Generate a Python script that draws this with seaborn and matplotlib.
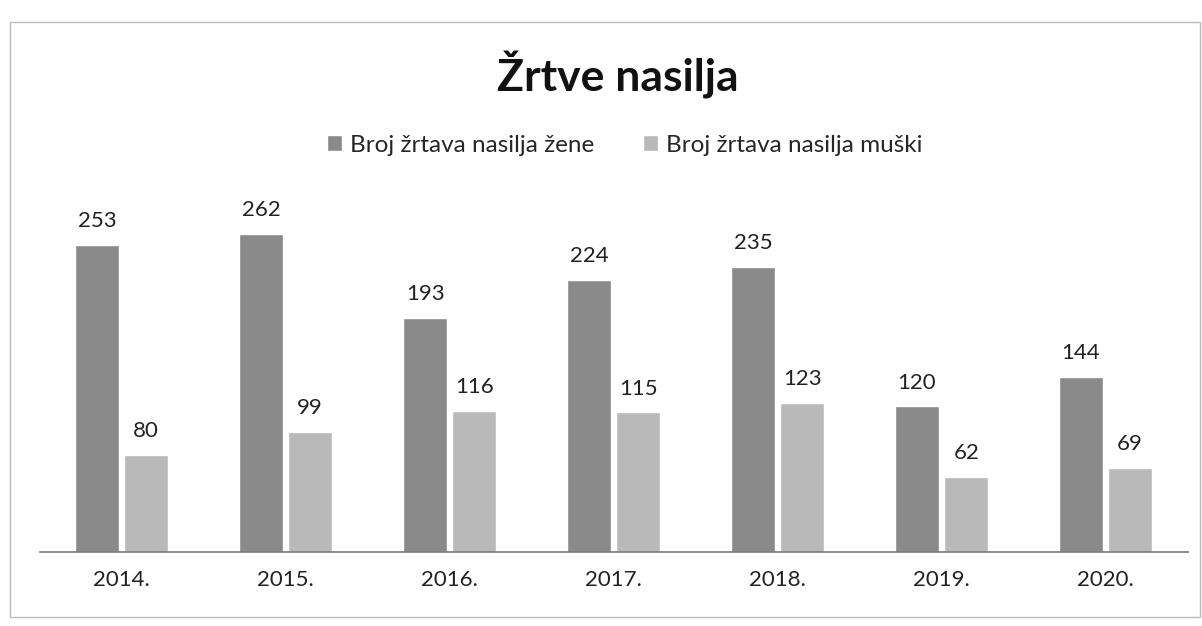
import pandas as pd
import seaborn as sns
import matplotlib.pyplot as plt
from matplotlib.patches import Patch

# data
years = ["2014.", "2015.", "2016.", "2017.", "2018.", "2019.", "2020."]
zene = [253, 262, 193, 224, 235, 120, 144]
muski = [80, 99, 116, 115, 123, 62, 69]
series = ["Broj žrtava nasilja žene", "Broj žrtava nasilja muški"]

df = pd.DataFrame({
    "year": years * 2,
    "value": zene + muski,
    "series": [series[0]] * len(years) + [series[1]] * len(years),
})

sns.set_style("white")
plt.rcParams["font.family"] = ["Lato", "DejaVu Sans"]

fig = plt.figure(figsize=(12.02, 6.26), dpi=100)
ax = fig.add_axes([0.033, 0.118, 0.955, 0.582])

sns.barplot(ax=ax, data=df, x="year", y="value", hue="series",
            palette=["#8a8a8a", "#b9b9b9"], width=0.6, gap=0.1,
            saturation=1, legend=False)

for c in ax.containers:
    ax.bar_label(c, padding=10, fontsize=16, color="#222222")

ax.set_ylim(0, 300)
ax.set_xlim(-0.5, len(years) - 0.5)
ax.set_xlabel("")
ax.set_ylabel("")
ax.set_yticks([])
ax.tick_params(axis="x", length=0, pad=13, labelsize=16, labelcolor="#222222")
for s in ["top", "right", "left"]:
    ax.spines[s].set_visible(False)
ax.spines["bottom"].set_color("#777777")
ax.spines["bottom"].set_linewidth(1.2)

fig.text(0.514, 0.88, "Žrtve nasilja", ha="center", va="center",
         fontsize=32, fontweight="bold", color="#111111")

# legend
handles = [Patch(facecolor="#8a8a8a"), Patch(facecolor="#b9b9b9")]
fig.legend(handles, series, loc="center", bbox_to_anchor=(0.52, 0.768),
           ncol=2, frameon=False, fontsize=17.5, handlelength=0.6,
           handleheight=0.6, handletextpad=0.35, columnspacing=2.0)

# scanned page frame
fig.add_artist(plt.Rectangle((0.008, 0.015), 0.99, 0.95, transform=fig.transFigure,
                             fill=False, edgecolor="#bbbbbb", linewidth=1))

fig.savefig("out.png", dpi=100)
